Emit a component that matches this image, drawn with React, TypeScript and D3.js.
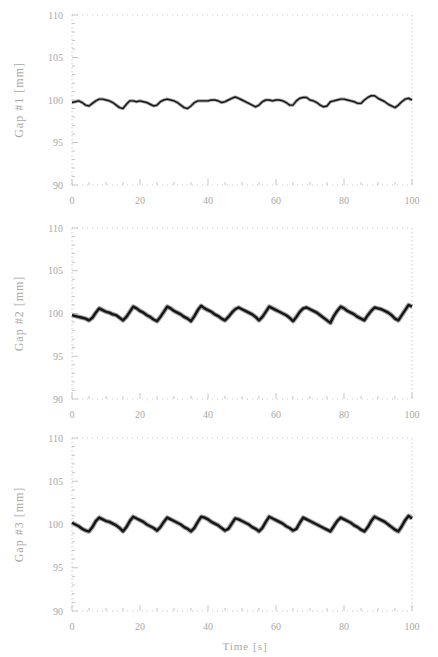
import React from "react";
import * as d3 from "d3";

// time axis, one sample per second
const times: number[] = d3.range(0, 101);

const gap1: number[] = [
  99.7, 99.8, 99.9, 99.7, 99.4, 99.3, 99.6, 99.9, 100.1, 100.1,
  100.0, 99.9, 99.7, 99.4, 99.1, 99.0, 99.5, 99.9, 99.9, 99.8,
  99.9, 99.8, 99.7, 99.5, 99.3, 99.4, 99.8, 100.0, 100.1, 100.0,
  99.9, 99.7, 99.4, 99.1, 99.0, 99.3, 99.7, 99.9, 99.9, 99.9,
  99.9, 100.0, 100.0, 99.9, 99.7, 99.8, 100.0, 100.2, 100.35, 100.2,
  100.0, 99.8, 99.6, 99.4, 99.2, 99.4, 99.8, 100.0, 100.0, 99.9,
  100.0, 100.0, 99.9, 99.7, 99.4, 99.4, 99.9, 100.2, 100.3, 100.3,
  100.0, 99.9, 99.7, 99.4, 99.2, 99.3, 99.8, 99.9, 100.0, 100.1,
  100.1, 100.0, 99.9, 99.8, 99.6, 99.6, 100.0, 100.3, 100.5, 100.5,
  100.2, 100.0, 99.8, 99.5, 99.3, 99.1, 99.4, 99.8, 100.1, 100.2,
  100.0,
];

const gap2: number[] = [
  99.8, 99.7, 99.6, 99.5, 99.4, 99.2, 99.5, 100.1, 100.6, 100.4,
  100.2, 100.1, 99.9, 99.8, 99.5, 99.2, 99.6, 100.2, 100.8, 100.6,
  100.3, 100.1, 99.8, 99.6, 99.3, 99.1, 99.6, 100.2, 100.8, 100.6,
  100.3, 100.1, 99.9, 99.6, 99.4, 99.1, 99.7, 100.4, 100.9, 100.6,
  100.4, 100.2, 99.9, 99.7, 99.4, 99.2, 99.6, 100.1, 100.5, 100.7,
  100.5, 100.3, 100.1, 99.9, 99.6, 99.2, 99.6, 100.2, 100.8, 100.6,
  100.4, 100.2, 100.0, 99.8, 99.5, 99.1, 99.6, 100.2, 100.6, 100.7,
  100.5, 100.3, 100.1, 99.8, 99.5, 99.2, 98.9, 99.7, 100.3, 100.8,
  100.6, 100.3, 100.1, 99.9, 99.6, 99.4, 99.2, 99.8, 100.3, 100.7,
  100.6, 100.5, 100.3, 100.1, 99.8, 99.4, 99.2, 99.8, 100.4, 101.0,
  100.8,
];

const gap3: number[] = [
  100.2, 100.0, 99.8, 99.5, 99.3, 99.2, 99.7, 100.4, 100.8, 100.6,
  100.4, 100.3, 100.1, 99.9, 99.6, 99.2, 99.7, 100.4, 100.9, 100.7,
  100.5, 100.3, 100.0, 99.8, 99.6, 99.3, 99.7, 100.3, 100.8, 100.6,
  100.4, 100.2, 100.0, 99.7, 99.5, 99.2, 99.6, 100.3, 100.9, 100.8,
  100.6, 100.3, 100.1, 99.9, 99.6, 99.3, 99.5, 100.1, 100.7, 100.6,
  100.4, 100.2, 100.0, 99.7, 99.5, 99.2, 99.6, 100.3, 100.9, 100.7,
  100.5, 100.3, 100.1, 99.8, 99.6, 99.3, 99.5, 100.2, 100.8, 100.6,
  100.4, 100.2, 100.0, 99.8, 99.6, 99.4, 99.2, 99.8, 100.4, 100.8,
  100.6, 100.4, 100.2, 99.9, 99.7, 99.4, 99.2, 99.7, 100.4, 100.9,
  100.7, 100.5, 100.3, 100.0, 99.7, 99.4, 99.2, 99.8, 100.5, 101.0,
  100.7,
];

const seriesList: number[][] = [gap1, gap2, gap3];
const yLabels: string[] = ["Gap #1 [mm]", "Gap #2 [mm]", "Gap #3 [mm]"];
const xTicks: number[] = [0, 20, 40, 60, 80, 100];
const yTicks: number[] = [90, 95, 100, 105, 110];
const xTitle = "Time [s]";

const W = 438;
const H = 657;
const left = 72;
const right = 412;
// vertical extent of each panel (top, bottom)
const panels = [
  [15, 185],
  [228, 399],
  [438, 611],
];
// the first gap trace is drawn thinner than the other two
const lineWidths = [
  [3.2, 1.4],
  [4.6, 2.4],
  [4.6, 2.4],
];

const axisColor = "#c6c6c6";
const textColor = "#a8a8a8";
const font = "'Liberation Serif', 'DejaVu Serif', serif";

function Panel({ idx }: { idx: number }) {
  const [top, bottom] = panels[idx];
  const data = seriesList[idx];
  const x = d3.scaleLinear().domain([0, 100]).range([left, right]);
  const y = d3.scaleLinear().domain([90, 110]).range([bottom, top]);
  const line = d3
    .line<number>()
    .x((d, i) => x(times[i]))
    .y(d => y(d));
  const path = line(data) || "";
  const minorY = d3.range(90, 111, 1);
  const minorX = d3.range(0, 101, 5);
  const dash = "1.5,2.5";
  const [halo, core] = lineWidths[idx];

  return (
    <g>
      {/* frame */}
      <line x1={left} x2={left} y1={top} y2={bottom} stroke={axisColor} strokeDasharray={dash} />
      <line x1={right} x2={right} y1={top} y2={bottom} stroke={axisColor} strokeDasharray={dash} />
      <line x1={left} x2={right} y1={top} y2={top} stroke={axisColor} strokeDasharray="1,4" />
      <line x1={left} x2={right} y1={bottom} y2={bottom} stroke={axisColor} strokeDasharray="1,4" />
      {minorY.map(v => (
        <line
          key={"my" + v}
          x1={left}
          x2={left + (v % 5 === 0 ? 6 : 3)}
          y1={y(v)}
          y2={y(v)}
          stroke={axisColor}
        />
      ))}
      {minorX.map(v => (
        <line
          key={"mx" + v}
          x1={x(v)}
          x2={x(v)}
          y1={bottom}
          y2={bottom - (v % 20 === 0 ? 6 : 3)}
          stroke={axisColor}
        />
      ))}
      {yTicks.map(v => (
        <text
          key={"yt" + v}
          x={left - 9}
          y={y(v)}
          dy="0.35em"
          textAnchor="end"
          fontSize={10}
          fill={textColor}
          fontFamily={font}
        >
          {v}
        </text>
      ))}
      {xTicks.map(v => (
        <text
          key={"xt" + v}
          x={x(v)}
          y={bottom + 19}
          textAnchor="middle"
          fontSize={10}
          fill={textColor}
          fontFamily={font}
        >
          {v}
        </text>
      ))}
      <text
        transform={`translate(23,${(top + bottom) / 2}) rotate(-90)`}
        textAnchor="middle"
        fontSize={12}
        letterSpacing={1}
        fill={textColor}
        fontFamily={font}
      >
        {yLabels[idx]}
      </text>
      {/* data */}
      <path d={path} fill="none" stroke="#a0a0a0" strokeWidth={halo} strokeLinejoin="round" />
      <path d={path} fill="none" stroke="#151515" strokeWidth={core} strokeLinejoin="round" />
    </g>
  );
}

export default function App() {
  return (
    <svg width={W} height={H} style={{ display: "block", position: "absolute", left: 0, top: 0, background: "#fff" }}>
      {seriesList.map((_, i) => (
        <Panel key={i} idx={i} />
      ))}
      <text
        x={245}
        y={650}
        textAnchor="middle"
        fontSize={11}
        letterSpacing={1}
        fill={textColor}
        fontFamily={font}
      >
        {xTitle}
      </text>
    </svg>
  );
}
